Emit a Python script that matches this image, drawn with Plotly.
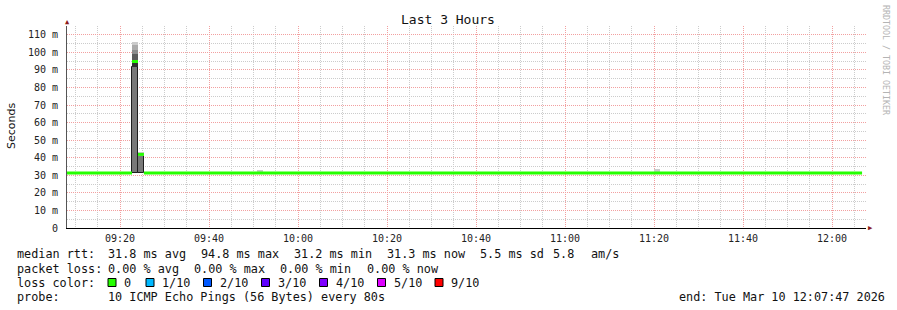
import plotly.graph_objects as go

# ---------------- data ----------------
title_text = "Last 3 Hours"
y_title = "Seconds"
watermark = "RRDTOOL / TOBI OETIKER"

x_start = "2026-03-10 09:08:05"
x_end = "2026-03-10 12:07:38"
x_tick0 = "2026-03-10 09:20:00"

y_tick_vals = [0, 10, 20, 30, 40, 50, 60, 70, 80, 90, 100, 110]
y_tick_text = ["0", "10 m", "20 m", "30 m", "40 m", "50 m", "60 m",
               "70 m", "80 m", "90 m", "100 m", "110 m"]

# median rtt runs (ms)
median_from = ["2026-03-10 09:07:00", "2026-03-10 09:22:42",
               "2026-03-10 09:24:02", "2026-03-10 09:25:22"]
median_to = ["2026-03-10 09:22:42", "2026-03-10 09:24:02",
             "2026-03-10 09:25:22", "2026-03-10 12:06:45"]
median_ms = [31.3, 94.8, 41.9, 31.3]

# smoke (ping spread) samples, ms
smoke_time = ["2026-03-10 09:23:22", "2026-03-10 09:24:42",
              "2026-03-10 09:51:28", "2026-03-10 11:20:40"]
ping_min = [31.2, 31.2, 31.2, 31.2]
ping_q1 = [91.5, 41.0, 31.2, 31.2]
ping_q2 = [94.0, 41.0, 31.2, 31.2]
ping_q3 = [99.0, 41.0, 31.2, 31.2]
ping_q4 = [101.5, 41.0, 31.2, 31.2]
ping_q5 = [104.0, 41.0, 31.2, 31.2]
ping_max = [105.8, 43.3, 33.2, 33.4]

rtt_texts = ["median rtt:", "31.8 ms avg", "94.8 ms max", "31.2 ms min",
             "31.3 ms now", "5.5 ms sd", "5.8", "am/s"]
loss_texts = ["packet loss:", "0.00 % avg", "0.00 % max", "0.00 % min", "0.00 % now"]
loss_color_title = "loss color:"
loss_labels = ["0", "1/10", "2/10", "3/10", "4/10", "5/10", "9/10"]
loss_colors = ["#26ff00", "#00b8ff", "#0059ff", "#5e00ff", "#7e00ff", "#dd00ff", "#ff0000"]
probe_texts = ["probe:", "10 ICMP Echo Pings (56 Bytes) every 80s"]
end_text = "end: Tue Mar 10 12:07:47 2026"

# ---------------- layout helpers ----------------
W, H = 897, 310
L, R, T, B = 67, 31, 26, 82
PW, PH = W - L - R, H - T - B
MONO = "DejaVu Sans Mono"


def px(x):
    return (x - L) / PW


def py(y):
    return (T + PH - y) / PH


fig = go.Figure()

# smoke bands
bands = [
    (ping_min, ping_q1, "#787878", "#1e1e1e", 1),
    (ping_q1, ping_q2, "#303030", None, 0),
    (ping_q2, ping_q3, "#5c5c5c", None, 0),
    (ping_q3, ping_q4, "#8c8c8c", None, 0),
    (ping_q4, ping_q5, "#ababab", None, 0),
    (ping_q5, ping_max, "#cbcbcb", None, 0),
]
for lo, hi, col, lcol, lw in bands:
    xs, bases, hs = [], [], []
    for t, a, b in zip(smoke_time, lo, hi):
        if b - a > 0.01:
            xs.append(t)
            bases.append(a)
            hs.append(b - a)
    if not xs:
        continue
    fig.add_trace(go.Bar(
        x=xs, y=hs, base=bases, width=80000,
        marker=dict(color=col, line=dict(color=lcol or col, width=lw)),
        hoverinfo="skip",
    ))

# median line
mx, my = [], []
for a, b, v in zip(median_from, median_to, median_ms):
    mx += [a, b, None]
    my += [v, v, None]
fig.add_trace(go.Scatter(x=mx, y=my, mode="lines",
                         line=dict(color="#26ff00", width=3),
                         hoverinfo="skip", connectgaps=False))

major_grid = "#f2a0a0"
minor_grid = "#cccccc"
dash = "1px,1px"

fig.update_layout(
    width=W, height=H,
    margin=dict(l=L, r=R, t=T, b=B, pad=0),
    paper_bgcolor="white", plot_bgcolor="white",
    showlegend=False, barmode="overlay", bargap=0,
    xaxis=dict(
        type="date", range=[x_start, x_end],
        tick0=x_tick0, dtick=1200000, tickformat="%H:%M",
        showgrid=True, gridcolor=major_grid, griddash=dash, gridwidth=1,
        minor=dict(dtick=300000, tick0=x_tick0, showgrid=True,
                   gridcolor=minor_grid, griddash=dash, gridwidth=1),
        showline=True, linecolor="#000000", linewidth=1,
        zeroline=False, ticks="", ticklabelstandoff=1,
        tickfont=dict(family=MONO, size=10, color="#222222"),
        fixedrange=True,
    ),
    yaxis=dict(
        range=[0, 115],
        tickvals=y_tick_vals, ticktext=y_tick_text,
        showgrid=True, gridcolor=major_grid, griddash=dash, gridwidth=1,
        minor=dict(dtick=5, tick0=0, showgrid=True,
                   gridcolor=minor_grid, griddash=dash, gridwidth=1),
        showline=True, linecolor="#555555", linewidth=1,
        zeroline=False, ticks="", ticklabelstandoff=6,
        tickfont=dict(family=MONO, size=10, color="#222222"),
        fixedrange=True,
    ),
)

ann = []


def text(x, y, s, size=11.8, color="#111111", family=MONO, xanchor="left", angle=0):
    ann.append(dict(
        x=px(x), y=py(y), xref="paper", yref="paper", text=s.replace(" ", "\u00a0"),
        showarrow=False, xanchor=xanchor, yanchor="middle", textangle=angle,
        font=dict(family=family, size=size, color=color), borderpad=0,
    ))


text(448, 19.5, title_text, size=13, xanchor="center")
text(11, 126, y_title, size=11, family="DejaVu Sans", xanchor="center", angle=-90)
text(886, 60, watermark, size=8.3, color="#b4b4b4", xanchor="center", angle=90)

# axis arrows
text(67, 22, "\u25b2", size=7, color="#8b1a1a", xanchor="center")
text(870, 228, "\u25b6", size=7, color="#8b1a1a", xanchor="center")

row_y = [254.5, 268.5, 282.5, 296.5]
rtt_x = [16, 107, 200, 293, 386, 479, 552, 590]
for x, s in zip(rtt_x, rtt_texts):
    text(x, row_y[0], s)
loss_x = [16, 107, 193, 279, 366]
for x, s in zip(loss_x, loss_texts):
    text(x, row_y[1], s)
text(16, row_y[2], loss_color_title)
box_x = [108, 146, 203.5, 261.5, 319.5, 377.5, 435]
shapes = []
for x, lab, col in zip(box_x, loss_labels, loss_colors):
    shapes.append(dict(type="rect", xref="paper", yref="paper",
                       x0=px(x), x1=px(x + 8), y0=py(row_y[2] - 4), y1=py(row_y[2] + 4),
                       fillcolor=col, line=dict(color="#000000", width=1)))
    text(x + 15, row_y[2], lab)
text(16, row_y[3], probe_texts[0])
text(107, row_y[3], probe_texts[1])
text(678, row_y[3], end_text)

fig.update_layout(annotations=ann, shapes=shapes)

fig.write_html("out.html")
